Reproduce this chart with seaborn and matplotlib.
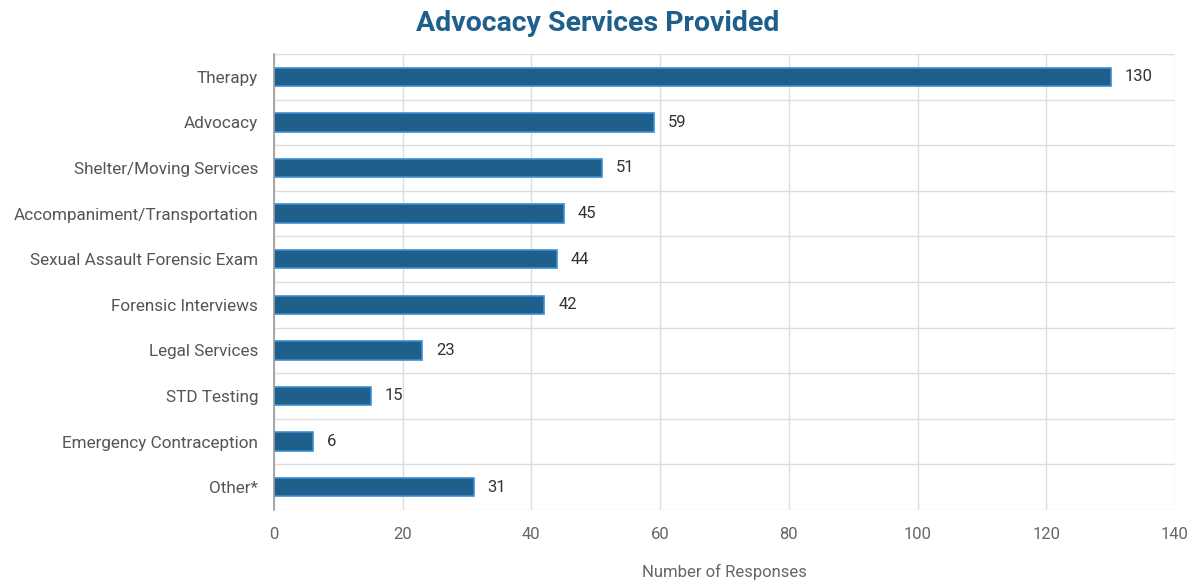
import matplotlib
matplotlib.use("Agg")
import matplotlib.pyplot as plt
import seaborn as sns
import numpy as np
import pandas as pd

services = ["Therapy", "Advocacy", "Shelter/Moving Services", "Accompaniment/Transportation",
            "Sexual Assault Forensic Exam", "Forensic Interviews", "Legal Services",
            "STD Testing", "Emergency Contraception", "Other*"]
responses = [130, 59, 51, 45, 44, 42, 23, 15, 6, 31]

df = pd.DataFrame({"service": services, "responses": responses})

sns.set_style("white")
plt.rcParams["font.family"] = ["Roboto", "DejaVu Sans"]

fig = plt.figure(figsize=(11.93, 5.8), dpi=100)
ax = fig.add_axes([274 / 1193, 1 - 510 / 580, (1175 - 274) / 1193, (510 - 54) / 580])

sns.barplot(data=df, y="service", x="responses", orient="h", ax=ax,
            color="#1f5f8b", edgecolor="#3b8fd4", linewidth=1.2, width=0.4,
            saturation=1)

ax.set_xlim(0, 140)
ax.set_ylim(len(services) - 0.5, -0.5)
ax.set_xticks(np.arange(0, 141, 20))

# lignes de séparation entre catégories
ax.set_yticks(np.arange(-0.5, len(services), 1), minor=True)
ax.grid(True, axis="x", color="#dddddd", linewidth=1)
ax.grid(True, axis="y", which="minor", color="#dddddd", linewidth=1)
ax.tick_params(axis="y", which="minor", length=11.5, color="#dddddd", width=1)
ax.tick_params(axis="y", which="major", length=0, pad=11.5, labelsize=12.3, labelcolor="#555555")
ax.tick_params(axis="x", length=6, color="#dddddd", width=1, pad=6, labelsize=12, labelcolor="#666666")
ax.set_axisbelow(True)

for side in ["top", "right", "bottom"]:
    ax.spines[side].set_visible(False)
ax.spines["left"].set_color("#999999")
ax.spines["left"].set_linewidth(1.2)

ax.bar_label(ax.containers[0], padding=10, fontsize=12, color="#333333")

ax.set_ylabel("")
ax.set_xlabel("Number of Responses", fontsize=12, color="#666666", labelpad=16)
fig.suptitle("Advocacy Services Provided", x=598 / 1193, y=1 - 10 / 580, va="top",
             fontsize=20.5, fontweight="bold", color="#1f5f8b")

fig.savefig("out.png", dpi=100)
